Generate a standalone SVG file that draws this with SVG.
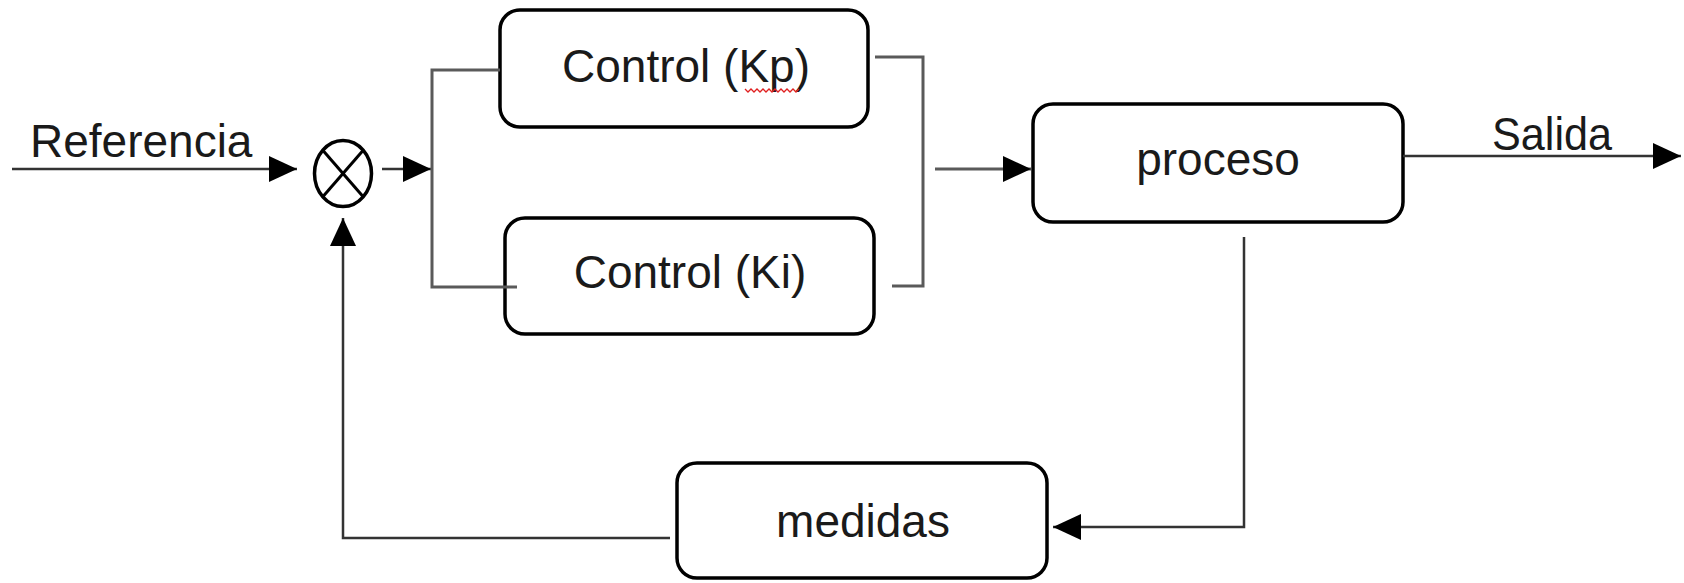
<svg xmlns="http://www.w3.org/2000/svg" width="1684" height="583" viewBox="0 0 1684 583">
  <style>
    .box { fill: #ffffff; stroke: #000000; stroke-width: 3.5; }
    .lbl { font-family: "Liberation Sans", Arial, sans-serif; font-size: 46px; fill: #1a1a1a; }
    .wire { fill: none; stroke: #333333; stroke-width: 2.5; }
    .bracket { fill: none; stroke: #5a5a5a; stroke-width: 3; }
    .sum { fill: #ffffff; stroke: #000000; stroke-width: 3.5; }
  </style>
  <defs>
    <marker id="arrow" markerUnits="userSpaceOnUse" markerWidth="30" markerHeight="28" refX="28" refY="13" orient="auto">
      <path d="M0,0 L28,13 L0,26 z" fill="#000000"/>
    </marker>
  </defs>
  <rect width="1684" height="583" fill="#ffffff"/>

  <g id="sum">
    <ellipse class="sum" cx="343" cy="173.5" rx="28.5" ry="33"/>
    <line x1="322.8" y1="150.2" x2="363.2" y2="196.8" stroke="#000" stroke-width="3"/>
    <line x1="363.2" y1="150.2" x2="322.8" y2="196.8" stroke="#000" stroke-width="3"/>
  </g>

  <g id="label-referencia">
    <text class="lbl" x="30" y="157">Referencia</text>
  </g>

  <g id="control-kp">
    <rect class="box" x="500" y="10" width="368" height="117" rx="20" ry="20"/>
    <text class="lbl" x="686" y="82" text-anchor="middle">Control (Kp)</text>
    <path d="M745,89 l3,3 l3,-3 l3,3 l3,-3 l3,3 l3,-3 l3,3 l3,-3 l3,3 l3,-3 l3,3 l3,-3 l3,3 l3,-3 l3,3 l3,-3 l3,3 l3,-3" fill="none" stroke="#e02020" stroke-width="1.3"/>
  </g>

  <g id="control-ki">
    <rect class="box" x="505" y="218" width="369" height="116" rx="20" ry="20"/>
    <text class="lbl" x="690" y="288" text-anchor="middle">Control (Ki)</text>
  </g>

  <g id="proceso">
    <rect class="box" x="1033" y="104" width="370" height="118" rx="20" ry="20"/>
    <text class="lbl" x="1218" y="175" text-anchor="middle">proceso</text>
  </g>

  <g id="label-salida">
    <text class="lbl" x="1492" y="150" textLength="120" lengthAdjust="spacingAndGlyphs">Salida</text>
  </g>

  <g id="medidas">
    <rect class="box" x="677" y="463" width="370" height="115" rx="20" ry="20"/>
    <text class="lbl" x="863" y="537" text-anchor="middle">medidas</text>
  </g>

  <g id="connectors">
    <!-- Referencia input -->
    <line class="wire" x1="12" y1="169" x2="297" y2="169" marker-end="url(#arrow)"/>
    <!-- sum to branch -->
    <line class="wire" x1="382" y1="169" x2="431" y2="169" marker-end="url(#arrow)"/>
    <!-- left branch bracket -->
    <path class="bracket" d="M500,70 H432 V287 H517"/>
    <!-- right branch bracket -->
    <path class="bracket" d="M875,57 H923 V286 H892"/>
    <!-- to proceso -->
    <line class="bracket" x1="935" y1="169" x2="1031" y2="169" marker-end="url(#arrow)"/>
    <!-- Salida -->
    <line class="wire" x1="1403" y1="156" x2="1681" y2="156" marker-end="url(#arrow)"/>
    <!-- feedback proceso to medidas -->
    <path class="wire" d="M1244,237 V527 H1053" marker-end="url(#arrow)"/>
    <!-- medidas to sum -->
    <path class="wire" d="M670,538 H343 V218" marker-end="url(#arrow)"/>
  </g>
</svg>
